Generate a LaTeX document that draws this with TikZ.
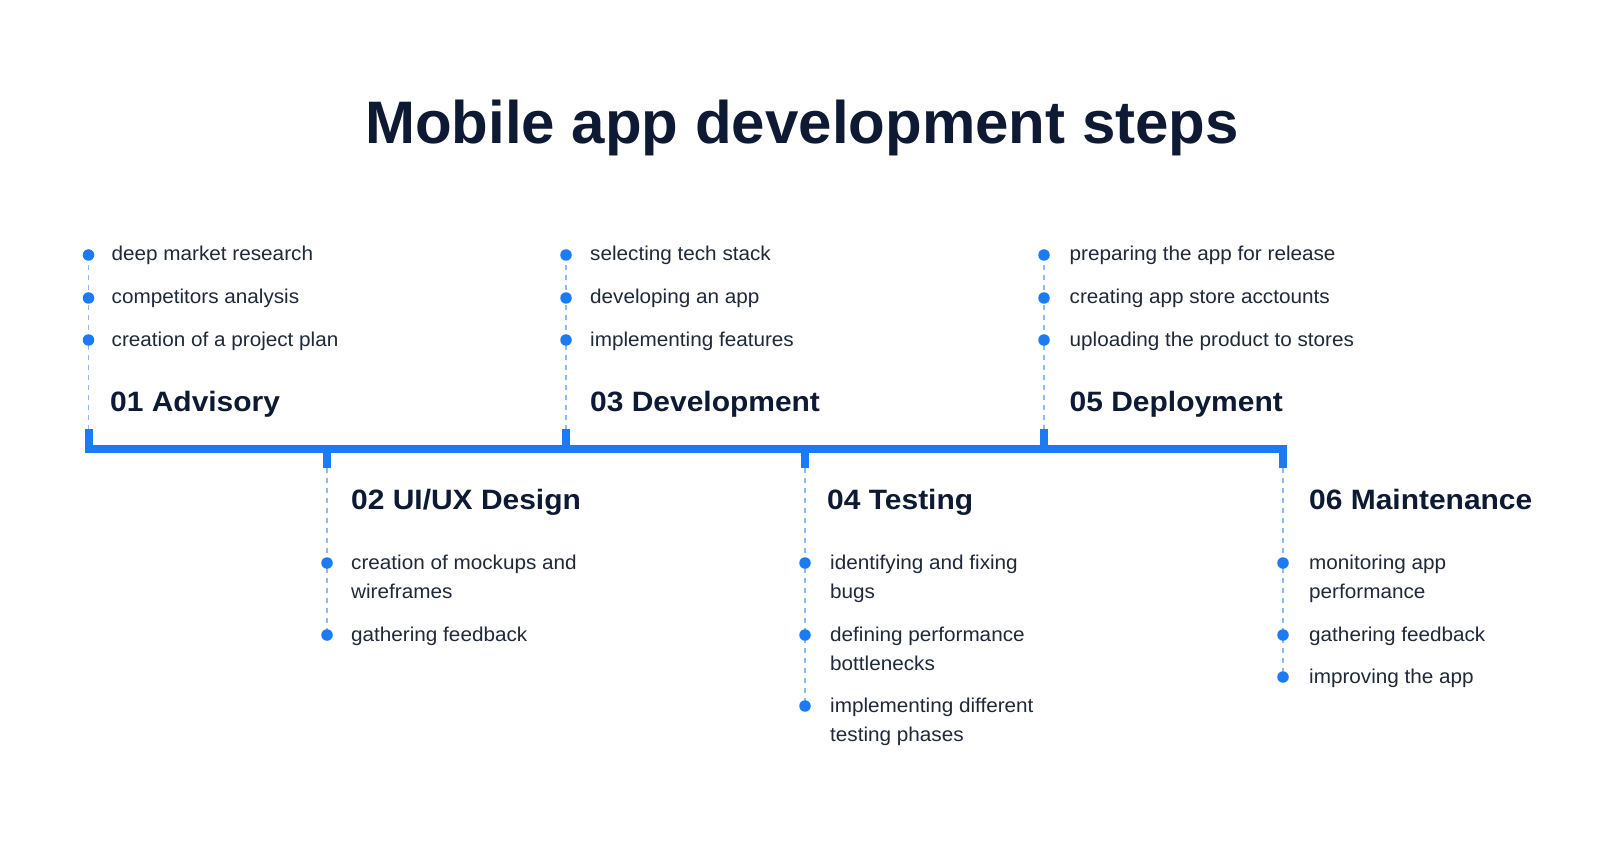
\documentclass[tikz,border=0pt]{standalone}
\usepackage{fontspec}
\usetikzlibrary{backgrounds}
\setmainfont{Liberation Sans}
\newfontfamily\itemfont[FakeStretch=1.035]{Liberation Sans}
\newfontfamily\headfont[FakeStretch=1.07]{Liberation Sans}
\definecolor{tblue}{HTML}{1A7BF5}
\definecolor{lblue}{HTML}{8DBAF5}
\definecolor{navy}{HTML}{0E1A33}
\definecolor{itemc}{HTML}{1F2937}
\begin{document}
\begin{tikzpicture}[x=1pt,y=-1pt,
  bul/.style={circle,fill=tblue,inner sep=0pt,minimum size=11.5pt},
  itm/.style={anchor=base west,inner sep=0pt,font=\itemfont\fontsize{20}{24}\selectfont,text=itemc},
  hd/.style={anchor=base west,inner sep=0pt,font=\headfont\fontsize{28}{32}\selectfont\bfseries,text=navy},
  dline/.style={lblue,line width=1.5pt,dash pattern=on 5pt off 5pt},
  bar/.style={tblue,line width=8pt}]
\begin{scope}[on background layer]\fill[white] (0,0) rectangle (1600,858);\end{scope}
\useasboundingbox (0,0) rectangle (1600,858);

\node[font=\fontsize{60}{70}\selectfont\bfseries,text=navy,anchor=base,inner sep=0pt] (title) at (802,144) {Mobile app development steps};

% main bar
\coordinate (L) at (84.5,449);
\coordinate (R) at (1287,449);
\draw[bar] (L) -- (R);

% ticks
\coordinate (t1) at (88.5,449);  \coordinate (t1e) at (88.5,429);
\coordinate (t2) at (327,449);   \coordinate (t2e) at (327,468);
\coordinate (t3) at (566,449);   \coordinate (t3e) at (566,429);
\coordinate (t4) at (805,449);   \coordinate (t4e) at (805,468);
\coordinate (t5) at (1044,449);  \coordinate (t5e) at (1044,429);
\coordinate (t6) at (1283,449);  \coordinate (t6e) at (1283,468);
\foreach \i in {1,...,6} {\draw[bar] (t\i) -- (t\i e);}

% ---------- 01 ----------
\node[bul] (b1a) at (88.5,255) {};
\node[bul] (b1b) at (88.5,298) {};
\node[bul] (b1c) at (88.5,340) {};
\begin{scope}[on background layer]\draw[dline] (b1a.center) -- (t1e);\end{scope}
\node[itm] (i1a) at (111.5,261) {deep market research};
\node[itm] (i1b) at (111.5,304) {competitors analysis};
\node[itm] (i1c) at (111.5,346) {creation of a project plan};
\node[hd] (h1) at (110,411) {01 Advisory};

% ---------- 03 ----------
\node[bul] (b3a) at (566,255) {};
\node[bul] (b3b) at (566,298) {};
\node[bul] (b3c) at (566,340) {};
\begin{scope}[on background layer]\draw[dline] (b3a.center) -- (t3e);\end{scope}
\node[itm] (i3a) at (590,261) {selecting tech stack};
\node[itm] (i3b) at (590,304) {developing an app};
\node[itm] (i3c) at (590,346) {implementing features};
\node[hd] (h3) at (590,411) {03 Development};

% ---------- 05 ----------
\node[bul] (b5a) at (1044,255) {};
\node[bul] (b5b) at (1044,298) {};
\node[bul] (b5c) at (1044,340) {};
\begin{scope}[on background layer]\draw[dline] (b5a.center) -- (t5e);\end{scope}
\node[itm] (i5a) at (1069.5,261) {preparing the app for release};
\node[itm] (i5b) at (1069.5,304) {creating app store acctounts};
\node[itm] (i5c) at (1069.5,346) {uploading the product to stores};
\node[hd] (h5) at (1069.5,411) {05 Deployment};

% ---------- 02 ----------
\node[hd] (h2) at (351,509) {02 UI/UX Design};
\node[bul] (b2a) at (327,563) {};
\node[bul] (b2b) at (327,635) {};
\begin{scope}[on background layer]\draw[dline] (t2e) -- (b2b.center);\end{scope}
\node[itm] (i2a) at (351,569) {creation of mockups and};
\node[itm] (i2a2) at (351,598) {wireframes};
\node[itm] (i2b) at (351,641) {gathering feedback};

% ---------- 04 ----------
\node[hd] (h4) at (827,509) {04 Testing};
\node[bul] (b4a) at (805,563) {};
\node[bul] (b4b) at (805,635) {};
\node[bul] (b4c) at (805,706) {};
\begin{scope}[on background layer]\draw[dline] (t4e) -- (b4c.center);\end{scope}
\node[itm] (i4a) at (830,569) {identifying and fixing};
\node[itm] (i4a2) at (830,598) {bugs};
\node[itm] (i4b) at (830,641) {defining performance};
\node[itm] (i4b2) at (830,670) {bottlenecks};
\node[itm] (i4c) at (830,712) {implementing different};
\node[itm] (i4c2) at (830,741) {testing phases};

% ---------- 06 ----------
\node[hd] (h6) at (1309,509) {06 Maintenance};
\node[bul] (b6a) at (1283,563) {};
\node[bul] (b6b) at (1283,635) {};
\node[bul] (b6c) at (1283,677) {};
\begin{scope}[on background layer]\draw[dline] (t6e) -- (b6c.center);\end{scope}
\node[itm] (i6a) at (1309,569) {monitoring app};
\node[itm] (i6a2) at (1309,598) {performance};
\node[itm] (i6b) at (1309,641) {gathering feedback};
\node[itm] (i6c) at (1309,683) {improving the app};
\end{tikzpicture}
\end{document}
